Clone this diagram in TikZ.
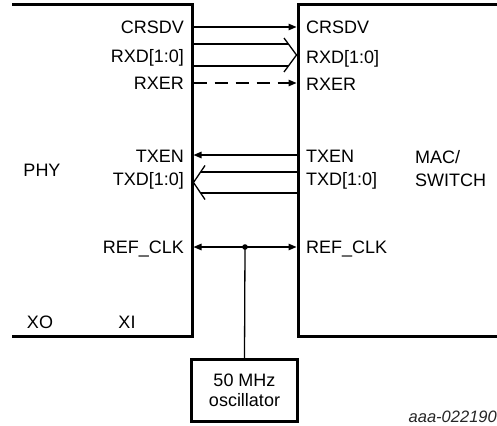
\documentclass[tikz,border=0pt]{standalone}
\usepackage{fontspec}
\setmainfont{Liberation Sans}
\usetikzlibrary{arrows.meta}
\begin{document}
\begin{tikzpicture}[x=1pt,y=-1pt,
  boxline/.style={line width=3pt},
  sig/.style={line width=1.3pt},
  tipR/.style={-{Triangle[length=8pt,width=6.5pt]}},
  tipB/.style={{Triangle[length=8pt,width=6.5pt]}-{Triangle[length=8pt,width=6.5pt]}},
  lbl/.style={inner sep=0pt, font=\fontsize{18}{22}\selectfont, text height=12.9pt, text depth=0pt},
  big/.style={inner sep=0pt, font=\fontsize{18}{23}\selectfont},
  oscbox/.style={draw, line width=2.5pt, minimum width=106pt, minimum height=62pt, inner sep=0pt, align=center, font=\fontsize{18}{20.5}\selectfont},
]
\useasboundingbox (0,0) rectangle (497,425);
% blocks (open on the cropped side)
\draw[boxline] (12,5) -- (192,5) -- (192,336) -- (12,336);
\draw[boxline] (497,5) -- (298,5) -- (298,336) -- (497,336);
% block titles
\node[lbl] (phy) at (42,170) {PHY};
\node[big, align=left, anchor=west] (mac) at (415,168.5) {MAC/\\SWITCH};
\node[lbl] (xo) at (40,322) {XO};
\node[lbl] (xi) at (127,322) {XI};
% pin labels PHY side
\node[lbl, anchor=east] (lCRSDV) at (184,27) {CRSDV};
\node[lbl, anchor=east] (lRXD)   at (184,56) {RXD[1:0]};
\node[lbl, anchor=east] (lRXER)  at (184,83) {RXER};
\node[lbl, anchor=east] (lTXEN)  at (184,156) {TXEN};
\node[lbl, anchor=east] (lTXD)   at (184,179.5) {TXD[1:0]};
\node[lbl, anchor=east] (lREF)   at (184,247) {REF\_CLK};
% pin labels MAC side
\node[lbl, anchor=west] (rCRSDV) at (306,27) {CRSDV};
\node[lbl, anchor=west] (rRXD)   at (306,57) {RXD[1:0]};
\node[lbl, anchor=west] (rRXER)  at (306,84) {RXER};
\node[lbl, anchor=west] (rTXEN)  at (306,156) {TXEN};
\node[lbl, anchor=west] (rTXD)   at (306,179.5) {TXD[1:0]};
\node[lbl, anchor=west] (rREF)   at (306,247) {REF\_CLK};
% pin coordinates
\coordinate (pCRSDV) at (193.5,27);  \coordinate (mCRSDV) at (296.5,27);
\coordinate (pRXDa) at (193.5,44);   \coordinate (mRXDa) at (288.4,44);
\coordinate (pRXDb) at (193.5,66);   \coordinate (mRXDb) at (288.4,66);
\coordinate (rxTop) at (284,38); \coordinate (rxTip) at (296.5,55); \coordinate (rxBot) at (284,72);
\coordinate (pRXER) at (193.5,83);   \coordinate (mRXER) at (296.5,83);
\coordinate (pTXEN) at (193.5,155);  \coordinate (mTXEN) at (296.5,155);
\coordinate (pTXDa) at (200.6,172);  \coordinate (mTXDa) at (296.5,172);
\coordinate (pTXDb) at (200.6,193);  \coordinate (mTXDb) at (296.5,193);
\coordinate (txTop) at (205,165.5); \coordinate (txTip) at (193.5,182.5); \coordinate (txBot) at (205,199.5);
\coordinate (pREF) at (193.5,247);   \coordinate (mREF) at (296.5,247);
\coordinate (tap) at (245,247);
% connectors
\draw[sig,tipR] (pCRSDV) -- (mCRSDV);
\draw[sig] (pRXDa) -- (mRXDa);
\draw[sig] (pRXDb) -- (mRXDb);
\draw[sig] (rxTop) -- (rxTip) -- (rxBot);
\draw[sig,tipR,dash pattern=on 13pt off 8pt] (pRXER) -- (mRXER);
\draw[sig,tipR] (mTXEN) -- (pTXEN);
\draw[sig] (mTXDa) -- (pTXDa);
\draw[sig] (mTXDb) -- (pTXDb);
\draw[sig] (txTop) -- (txTip) -- (txBot);
\draw[sig,tipB] (pREF) -- (mREF);
\fill (tap) circle (2.8pt);
% oscillator
\node[oscbox] (osc) at (244.5,390.5) {50 MHz\\oscillator};
\draw[sig] (tap) -- (osc.north);
% figure id
\node[inner sep=0pt, anchor=east, font=\fontsize{16.5}{18}\selectfont\itshape, text=black!85] (fid) at (497,417) {aaa-022190};
\end{tikzpicture}
\end{document}
